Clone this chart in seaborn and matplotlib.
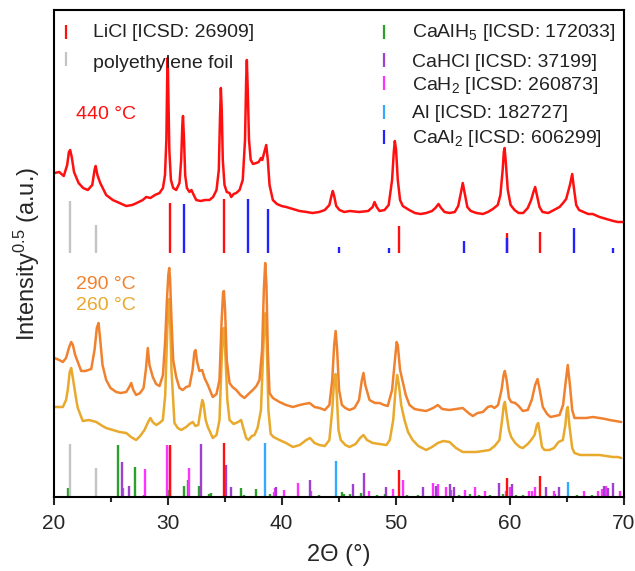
import matplotlib
matplotlib.use("Agg")
import matplotlib.pyplot as plt
import seaborn as sns
import numpy as np
import pandas as pd

# ---- measured patterns: 2-theta (deg) and offset sqrt-intensity (a.u.) ----
tt_440 = [20.09, 20.5, 20.9, 21.2, 21.35, 21.46, 21.6, 21.8, 22.2, 22.6, 23.01, 23.4, 23.6, 23.7,
          23.85, 24.1, 24.32, 24.62, 25.2, 25.79, 26.38, 26.9, 27.3, 27.83, 28.13, 28.5, 28.9,
          29.3, 29.6, 29.78, 29.9, 29.97, 30.02, 30.08, 30.16, 30.3, 30.5, 30.76, 31.05, 31.2,
          31.3, 31.36, 31.45, 31.55, 31.7, 31.93, 32.1, 32.3, 32.52, 32.9, 33.3, 33.68, 34.0,
          34.3, 34.5, 34.6, 34.68, 34.76, 34.85, 35.0, 35.2, 35.44, 35.59, 35.8, 36.03, 36.32,
          36.6, 36.8, 36.9, 36.96, 37.04, 37.15, 37.3, 37.5, 37.78, 38.0, 38.2, 38.31, 38.5,
          38.66, 38.8, 38.95, 39.24, 39.6, 40.0, 40.41, 41.0, 41.58, 42.2, 42.72, 43.3, 43.8,
          44.2, 44.4, 44.5, 44.62, 44.8, 45.09, 45.5, 46.0, 46.8, 47.6, 48.0, 48.16, 48.35,
          48.6, 49.04, 49.4, 49.7, 49.85, 49.94, 50.05, 50.2, 50.4, 50.64, 51.2, 51.7, 52.2,
          52.7, 53.2, 53.5, 53.77, 54.0, 54.3, 54.74, 55.2, 55.5, 55.75, 55.9, 56.05, 56.3,
          56.6, 57.1, 57.66, 58.1, 58.54, 58.97, 59.2, 59.4, 59.5, 59.57, 59.66, 59.85, 60.1,
          60.44, 60.8, 61.2, 61.6, 61.9, 62.1, 62.25, 62.4, 62.63, 62.9, 63.4, 63.9, 64.39,
          64.7, 64.97, 65.3, 65.5, 65.65, 65.85, 66.1, 66.5, 66.9, 67.3, 67.9, 68.5, 69.1,
          69.5, 69.95]
I_440 = [324, 325, 321, 332, 345, 347, 340, 325, 314, 309, 307, 312, 327, 331,
         322, 314, 309, 302, 297, 294, 291, 292, 294, 297, 300, 299, 302,
         304, 309, 322, 357, 417, 439, 402, 347, 317, 309, 307, 314, 337,
         372, 381, 357, 322, 309, 305, 307, 302, 297, 296, 297, 297, 300,
         307, 327, 377, 409, 387, 337, 312, 305, 304, 300, 303, 304, 307,
         317, 357, 417, 437, 407, 357, 337, 333, 334, 335, 339, 337, 345,
         352, 337, 312, 297, 293, 291, 290, 288, 286, 285, 284, 285, 287,
         292, 302, 306, 301, 291, 287, 285, 286, 285, 286, 290, 295, 290,
         286, 287, 292, 317, 345, 356, 347, 317, 297, 291, 287, 284, 283,
         284, 286, 289, 293, 289, 285, 284, 285, 291, 305, 314, 305, 290,
         286, 284, 283, 285, 288, 292, 302, 327, 345, 349, 337, 307, 292,
         287, 284, 284, 289, 297, 305, 310, 302, 290, 285, 284, 287, 290,
         294, 298, 312, 323, 309, 292, 287, 285, 283, 283, 280, 278, 276,
         275, 275]

tt_290 = [20.09, 20.5, 20.82, 21.1, 21.35, 21.55, 21.7, 21.9, 22.13, 22.43, 22.8, 23.31, 23.6,
          23.8, 23.95, 24.1, 24.3, 24.62, 25.0, 25.5, 25.9, 26.38, 26.65, 26.82, 27.0, 27.25,
          27.6, 27.9, 28.1, 28.27, 28.42, 28.71, 29.0, 29.3, 29.6, 29.8, 29.95, 30.07, 30.15,
          30.23, 30.35, 30.5, 30.76, 31.05, 31.34, 31.64, 31.93, 32.2, 32.36, 32.46, 32.6, 32.8,
          33.04, 33.25, 33.54, 33.97, 34.3, 34.56, 34.75, 34.88, 34.95, 35.05, 35.2, 35.44,
          35.7, 36.03, 36.4, 36.75, 37.1, 37.48, 37.8, 38.07, 38.3, 38.45, 38.57, 38.68, 38.8,
          38.95, 39.24, 39.82, 40.4, 41.0, 41.6, 42.0, 42.46, 42.9, 43.33, 43.8, 44.2, 44.45,
          44.62, 44.75, 44.88, 45.05, 45.3, 45.6, 45.96, 46.4, 46.8, 47.05, 47.19, 47.35, 47.72,
          48.2, 48.6, 49.0, 49.32, 49.7, 49.95, 50.1, 50.2, 50.4, 50.64, 50.9, 51.23, 51.67,
          52.11, 52.69, 53.3, 53.71, 54.1, 54.74, 55.3, 55.9, 56.4, 56.78, 57.2, 57.66, 58.1,
          58.4, 58.68, 59.0, 59.3, 59.48, 59.59, 59.75, 59.95, 60.15, 60.5, 60.8, 61.17, 61.6,
          61.95, 62.25, 62.46, 62.65, 62.92, 63.3, 63.6, 64.0, 64.39, 64.7, 64.95, 65.11, 65.3,
          65.5, 65.7, 66.2, 66.73, 67.3, 67.89, 68.4, 68.77, 69.3, 69.8]
I_290 = [139, 137, 135, 139, 149, 155, 152, 142, 135, 126, 126, 128, 147,
         169, 174, 157, 132, 117, 109, 105, 104, 105, 110, 114, 107, 102,
         104, 109, 127, 149, 132, 120, 113, 111, 122, 157, 197, 222, 229,
         217, 177, 137, 120, 109, 107, 110, 111, 127, 145, 147, 135, 126,
         127, 119, 112, 100, 103, 117, 177, 205, 206, 187, 137, 114,
         110, 107, 102, 99, 103, 107, 111, 117, 147, 207, 234, 212, 147,
         104, 99, 95, 92, 90, 92, 93, 94, 90, 89, 87, 92, 117,
         152, 166, 147, 107, 92, 89, 87, 89, 97, 117, 124, 112, 97,
         94, 94, 92, 91, 107, 137, 155, 152, 127, 115, 102, 92, 88,
         87, 86, 89, 92, 88, 87, 88, 89, 84, 81, 84, 85, 90,
         91, 89, 92, 107, 122, 126, 117, 99, 95, 94, 91, 86, 87,
         97, 112, 118, 107, 90, 83, 80, 81, 82, 92, 117, 132, 112,
         87, 79, 79, 79, 80, 79, 78, 77, 76, 75]

tt_260 = [20.09, 20.82, 21.1, 21.25, 21.42, 21.55, 21.7, 21.84, 22.0, 22.13, 22.57, 23.1, 23.75,
          24.3, 24.62, 25.2, 25.79, 26.38, 26.8, 27.25, 27.6, 27.98, 28.3, 28.5, 28.7, 29.01,
          29.3, 29.59, 29.8, 29.98, 30.1, 30.15, 30.22, 30.35, 30.61, 30.9, 31.2, 31.64, 31.93,
          32.22, 32.45, 32.7, 32.9, 33.05, 33.15, 33.35, 33.54, 33.97, 34.3, 34.56, 34.75,
          34.88, 34.95, 35.08, 35.25, 35.44, 35.8, 36.2, 36.46, 36.65, 36.9, 37.1, 37.4, 37.63,
          37.9, 38.2, 38.4, 38.52, 38.6, 38.7, 38.85, 39.05, 39.3, 39.82, 40.4, 41.0, 41.6,
          42.17, 42.5, 42.9, 43.33, 43.8, 44.2, 44.45, 44.62, 44.74, 44.85, 45.0, 45.2, 45.6,
          45.96, 46.5, 46.9, 47.19, 47.5, 48.0, 48.6, 49.2, 49.5, 49.8, 50.0, 50.15, 50.3, 50.5,
          50.79, 51.1, 51.5, 52.0, 52.69, 53.2, 53.71, 54.2, 54.74, 55.3, 55.9, 56.5, 57.08,
          57.7, 58.25, 58.7, 59.12, 59.35, 59.5, 59.6, 59.75, 59.95, 60.15, 60.5, 60.9, 61.17,
          61.6, 61.9, 62.2, 62.4, 62.52, 62.65, 62.85, 63.07, 63.5, 63.9, 64.3, 64.68, 64.9,
          65.02, 65.11, 65.25, 65.5, 65.7, 66.2, 66.73, 67.3, 67.89, 68.5, 69.06, 69.5, 69.8]
I_260 = [90, 90, 97, 107, 125, 129, 119, 109, 97, 89, 76, 77, 75,
         71, 69, 67, 65, 64, 60, 57, 61, 67, 75, 79, 75, 72,
         74, 77, 102, 167, 192, 198, 182, 127, 74, 69, 67, 70, 73,
         75, 71, 72, 87, 97, 94, 77, 70, 59, 62, 77, 137,
         167, 169, 142, 97, 77, 73, 75, 77, 69, 59, 57, 61, 62,
         69, 87, 147, 179, 184, 157, 87, 63, 60, 57, 54, 50, 52,
         57, 59, 54, 52, 51, 57, 87, 117, 123, 102, 67, 57, 52,
         50, 53, 59, 62, 57, 54, 53, 52, 57, 77, 107, 122, 112, 92,
         77, 65, 57, 51, 47, 50, 54, 56, 55, 49, 45, 45, 45,
         46, 47, 51, 57, 77, 92, 95, 82, 67, 60, 54, 50, 49,
         53, 57, 62, 72, 74, 65, 50, 47, 47, 49, 55, 57, 72,
         87, 90, 72, 49, 44, 42, 42, 42, 42, 41, 40, 40, 39]

# ---- reference reflections (position, relative height) ----
pe_pos = [21.46, 23.77]
pe_top = [52, 28]
pe_bot = [53, 29]

licl_pos = [30.18, 34.97, 50.28, 59.74, 62.70]
licl_top = [50, 54, 27, 20, 21]
licl_bot = [52, 54, 27, 19, 21]

caal2_pos = [31.46, 37.07, 38.80, 45.07, 49.40, 56.00, 59.74, 65.64, 69.06]
caal2_top = [49, 54, 44, 6, 5, 12, 15, 25, 5]

caalh5_pos = [21.26, 22.2, 25.70, 27.13, 27.2, 27.93, 28.95, 30.06, 31.49, 31.78, 32.72, 33.6,
              33.83, 36.49, 36.7, 37.72, 39.0, 43.25, 45.29, 45.47, 46.05, 46.93, 48.4, 49.1,
              51.0, 52.0, 55.6, 56.5, 57.3, 58.3, 59.4, 60.6, 61.2, 64.0, 65.9, 67.2]
caalh5_h = [9, 1, 52, 30, 1, 2, 1, 7, 11, 17, 11, 3,
            4, 9, 2, 8, 3, 2, 5, 3, 3, 4, 2, 3,
            2, 2, 2, 3, 2, 2, 3, 2, 2, 3, 2, 2]

cahcl_pos = [26.05, 26.60, 32.95, 35.15, 35.53, 39.53, 42.46, 46.29, 47.28, 49.20, 52.37,
             53.57, 54.74, 55.09, 59.12, 60.20, 63.22, 64.30, 68.30, 68.66, 69.06]
cahcl_h = [35, 11, 53, 32, 10, 10, 17, 13, 24, 10, 10,
           11, 13, 10, 14, 13, 10, 10, 11, 9, 14]

cah2_pos = [26.14, 28.04, 29.97, 30.18, 31.87, 39.30, 39.40, 40.18, 41.49, 42.57, 47.66,
            49.82, 50.67, 53.33, 53.77, 54.39, 54.90, 56.11, 56.99, 57.87, 59.65, 60.00,
            61.67, 62.00, 62.25, 63.92, 66.55, 67.80, 68.10, 68.50, 69.65]
cah2_h = [9, 28, 52, 50, 29, 5, 9, 7, 14, 6, 6,
          8, 17, 14, 13, 10, 7, 7, 10, 6, 6, 10,
          6, 6, 10, 6, 6, 6, 8, 11, 6]

al_pos = [38.51, 44.74, 65.09]
al_h = [54, 36, 15]

TOP_BASE = 244

legend_left = ["LiCl [ICSD: 26909]", "polyethylene foil"]
legend_right = ["CaAlH$_5$ [ICSD: 172033]", "CaHCl [ICSD: 37199]", "CaH$_2$ [ICSD: 260873]",
                "Al [ICSD: 182727]", "CaAl$_2$ [ICSD: 606299]"]
temps = ["440 °C", "290 °C", "260 °C"]

C_RED = "#ff1010"
C_ORANGE = "#f0822f"
C_YELLOW = "#e8a92c"
C_GREY = "#c4c4c4"
C_GREEN = "#2ca02c"
C_PURPLE = "#a040d0"
C_MAGENTA = "#ff33ff"
C_LBLUE = "#33aaff"
C_BLUE = "#2222ff"

sns.set_style("ticks")
plt.rcParams["font.family"] = ["Liberation Sans", "DejaVu Sans"]
plt.rcParams["mathtext.default"] = "regular"

fig = plt.figure(figsize=(6.35, 5.71), dpi=100)
ax = fig.add_axes([53.5 / 635, 1 - 497 / 571, 570 / 635, 487 / 571])

# reflection markers: full set along the bottom, selected phases under the 440 °C pattern
bar_lw = 1.7
ax.vlines(caalh5_pos, 0, caalh5_h, color=C_GREEN, lw=bar_lw, zorder=2)
ax.vlines(cah2_pos, 0, cah2_h, color=C_MAGENTA, lw=bar_lw, zorder=2)
ax.vlines(cahcl_pos, 0, cahcl_h, color=C_PURPLE, lw=bar_lw, zorder=2)
ax.vlines(pe_pos, 0, pe_bot, color=C_GREY, lw=bar_lw, zorder=2)
ax.vlines(licl_pos, 0, licl_bot, color=C_RED, lw=bar_lw, zorder=2)
ax.vlines(al_pos, 0, al_h, color=C_LBLUE, lw=bar_lw, zorder=2)

ax.vlines(pe_pos, TOP_BASE, np.add(TOP_BASE, pe_top), color=C_GREY, lw=bar_lw)
ax.vlines(licl_pos, TOP_BASE, np.add(TOP_BASE, licl_top), color=C_RED, lw=bar_lw)
ax.vlines(caal2_pos, TOP_BASE, np.add(TOP_BASE, caal2_top), color=C_BLUE, lw=bar_lw)

# diffraction patterns
for tt, inten, col in [(tt_260, I_260, C_YELLOW), (tt_290, I_290, C_ORANGE), (tt_440, I_440, C_RED)]:
    df = pd.DataFrame({"tt": tt, "I": inten})
    sns.lineplot(data=df, x="tt", y="I", ax=ax, color=col, lw=1.8, sort=False, estimator=None)

ax.set_xlim(20, 70)
ax.set_ylim(0, 487)
ax.set_xticks([20, 30, 40, 50, 60, 70])
ax.set_xticks([25, 35, 45, 55, 65], minor=True)
ax.set_yticks([])
ax.tick_params(axis="x", which="major", length=6, width=1.5, direction="out", labelsize=15, pad=6)
ax.tick_params(axis="x", which="minor", length=3.5, width=1.5, direction="out")
for s in ax.spines.values():
    s.set_linewidth(1.5)
    s.set_color("black")
    s.set_visible(True)

ax.set_xlabel("2Θ (°)", fontsize=17, labelpad=8)
ax.set_ylabel("Intensity$^{0.5}$ (a.u.)", fontsize=17, labelpad=8)

# phase key
fs = 14
for txt, col, xm, ym, yt in [(legend_left[0], C_RED, 21.1, 465, 459.7),
                             (legend_left[1], C_GREY, 21.1, 438, 428.7)]:
    ax.plot([xm], [ym], marker="|", ms=10, mew=1.6, color=col, ls="none")
    ax.text(23.5, yt, txt, fontsize=fs, color="#222222", va="baseline", ha="left")
right_cols = [C_GREEN, C_PURPLE, C_MAGENTA, C_LBLUE, C_BLUE]
right_ym = [465.3, 437, 413.7, 385.3, 360.3]
right_yt = [459.7, 430.3, 407, 378.7, 353.7]
for txt, col, ym, yt in zip(legend_right, right_cols, right_ym, right_yt):
    ax.plot([48.97], [ym], marker="|", ms=10, mew=1.6, color=col, ls="none")
    ax.text(51.46, yt, txt, fontsize=fs, color="#222222", va="baseline", ha="left")

# temperature labels
ax.text(22.0, 378, temps[0], fontsize=14, color=C_RED, va="baseline", ha="left")
ax.text(22.0, 208, temps[1], fontsize=14, color=C_ORANGE, va="baseline", ha="left")
ax.text(22.0, 187, temps[2], fontsize=14, color=C_YELLOW, va="baseline", ha="left")

fig.savefig("out.png", dpi=100)
